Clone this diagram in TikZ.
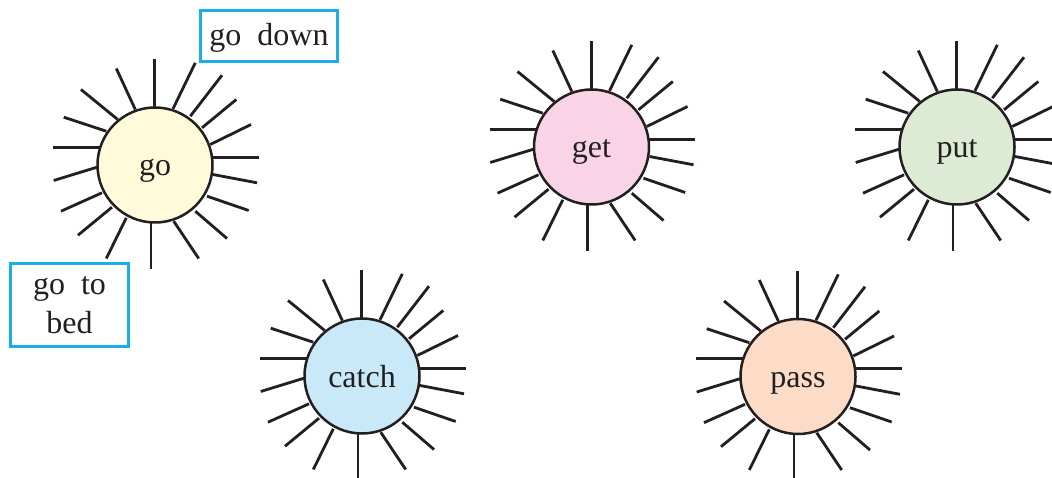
\documentclass[tikz,border=0pt]{standalone}
\usepackage{fontspec}
\setmainfont{Liberation Serif}
\definecolor{ink}{HTML}{231F20}
\definecolor{tagblue}{HTML}{1AAEE8}
\definecolor{fgo}{HTML}{FFFADA}
\definecolor{fget}{HTML}{F9D4E6}
\definecolor{fput}{HTML}{DDEBD5}
\definecolor{fcatch}{HTML}{C9E9F8}
\definecolor{fpass}{HTML}{FCDCC6}
\newcommand\sunrays{-0.3/-105.5/-0.3/-50, 40.3/-102.2/18/-56.2, 67/-89.8/35.3/-48.8, 81.3/-65.5/47/-37.2, 96/-40.5/55.3/-20.5, 103.7/-7.8/55/-7.8, 102/17.8/58/9.5, 93.7/45.5/52/31.2, 72/73.5/40.3/46.2, 43.7/93.5/18.7/56.2, -4/104.5/-4/50, -48.7/93.5/-28.7/52.8, -77/70.2/-43/42.2, -94/46.2/-53/27.8, -101.3/15.5/-58/2.2, -102/-17.8/-52/-17.8, -91.3/-47.8/-48.7/-33.8, -74/-75.5/-37.3/-45.5, -38.7/-96.5/-19.7/-55.5}
\begin{document}
\begin{tikzpicture}[x=1pt,y=-1pt,
  ray/.style={line width=2.8pt, draw=ink},
  sun/.style={circle, draw=ink, line width=2.5pt, minimum size=115pt, inner sep=0pt,
    font=\fontsize{32}{38}\selectfont, text=ink, text height=22pt, text depth=0pt},
  tag/.style={draw=tagblue, line width=2.4pt, fill=white, inner sep=0pt,
    font=\fontsize{32}{39}\selectfont, text=ink, align=center}]
\clip (0,0) rectangle (1052,478);
\fill[white] (0,0) rectangle (1052,478);
% rays
\foreach \cx/\cy in {155/165, 591.5/147, 957/147, 362/376, 798/376.5}{
  \begin{scope}[shift={(\cx,\cy)}]
    \foreach \ox/\oy/\ix/\iy in \sunrays {\draw[ray] (\ox,\oy) -- (\ix,\iy);}
  \end{scope}
}
% suns
\node[sun, fill=fgo] (go) at (155,165) {go};
\node[sun, fill=fget] (get) at (591.5,147) {get};
\node[sun, fill=fput] (put) at (957,147) {put};
\node[sun, fill=fcatch] (catch) at (362,376) {catch};
\node[sun, fill=fpass] (pass) at (798,376.5) {pass};
% tags
\node[tag, minimum width=137pt, minimum height=51pt, text height=20pt, text depth=0pt] (down) at (269,36) {go\hspace{0.5em}down};
\node[tag, minimum width=118pt, minimum height=83pt] (bed) at (69.5,305) {go\hspace{0.5em}to\\bed};
\end{tikzpicture}
\end{document}
